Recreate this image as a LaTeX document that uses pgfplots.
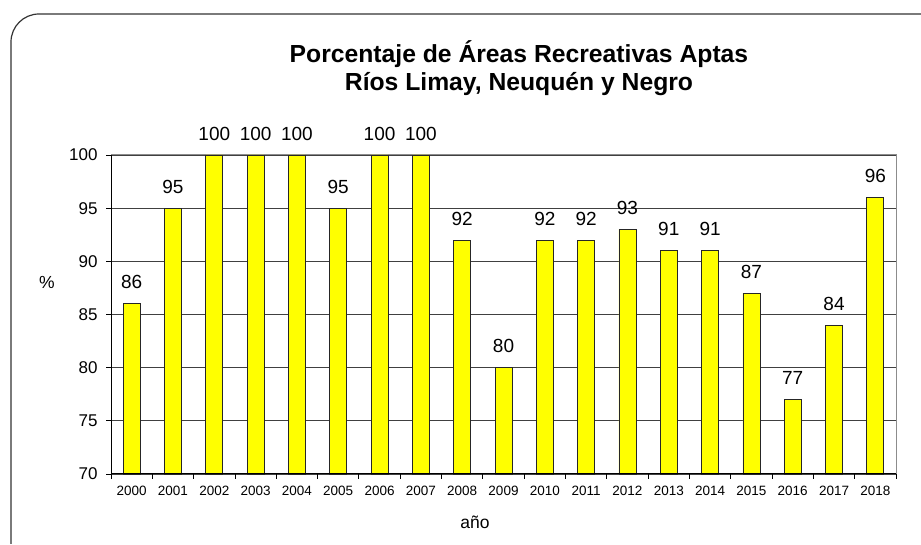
\documentclass[border=0pt]{standalone}
\usepackage{pgfplots}
\pgfplotsset{compat=1.18}
\usepackage{fontspec}
\setmainfont{Liberation Sans}
\definecolor{baryellow}{RGB}{255,255,0}
\begin{document}
\begin{tikzpicture}[x=1pt,y=1pt]
\useasboundingbox (0,0) rectangle (921,545);
\begin{scope}
\clip (0,0) rectangle (921,545);
\draw[line width=1.2pt, black!80, rounded corners=28pt] (11,1) -- (11,531) -- (960,531);
\end{scope}
\node[font=\bfseries\fontsize{24.7}{28}\selectfont, align=center] at (519,477) {Porcentaje de Áreas Recreativas Aptas\\Ríos Limay, Neuquén y Negro};
\begin{axis}[
  at={(111pt,71pt)}, anchor=south west,
  width=785pt, height=319pt, scale only axis,
  xmin=-0.5, xmax=18.5, ymin=70, ymax=100,
  ytick={70,75,...,100},
  xtick={0,...,18},
  xtick pos=lower, ytick pos=left,
  xticklabels={2000,2001,2002,2003,2004,2005,2006,2007,2008,2009,2010,2011,2012,2013,2014,2015,2016,2017,2018},
  major x tick style={draw=none},
  minor xtick={-0.5,0.5,...,18.5},
  minor tick length=5pt,
  tick align=outside,
  major tick length=5pt,
  ytick style={black, line width=0.8pt},
  minor x tick style={black, line width=0.8pt},
  ymajorgrids,
  grid style={black!75, line width=0.8pt},
  axis line style={black!45, line width=1pt},
  xticklabel style={font=\fontsize{13.5}{15}\selectfont, yshift=-4pt},
  yticklabel style={font=\fontsize{17}{19}\selectfont, xshift=-5pt},
  /pgf/number format/assume math mode=true,
  ybar, bar width=17pt,
  nodes near coords,
  every node near coord/.append style={font=\fontsize{19}{22}\selectfont, black, yshift=11pt},
  clip=false,
]
\addplot[fill=baryellow, draw=black!85, line width=0.8pt] coordinates {
(0,86) (1,95) (2,100) (3,100) (4,100) (5,95) (6,100) (7,100) (8,92) (9,80)
(10,92) (11,92) (12,93) (13,91) (14,91) (15,87) (16,77) (17,84) (18,96)};
\draw[black, line width=1pt] (rel axis cs:0,1) -- (rel axis cs:0,0) -- (rel axis cs:1,0);
\end{axis}
\node[font=\fontsize{17.5}{20}\selectfont] at (47,263) {\%};
\node[font=\fontsize{17.5}{20}\selectfont] at (475,23) {año};
\end{tikzpicture}
\end{document}
